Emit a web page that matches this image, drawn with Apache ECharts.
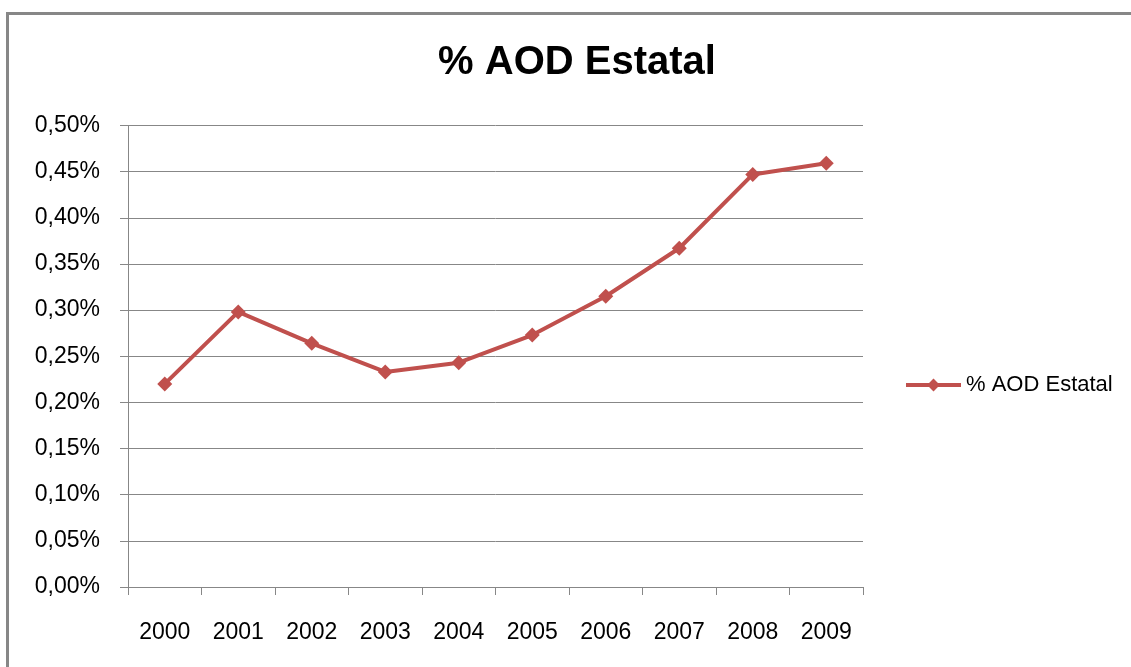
<!DOCTYPE html>
<html>
<head>
<meta charset="utf-8">
<title>% AOD Estatal</title>
<script src="https://cdn.jsdelivr.net/npm/echarts@6/dist/echarts.min.js"></script>
<style>
  html, body { margin: 0; padding: 0; background: #fff; }
  #chart { width: 1131px; height: 667px; }
</style>
</head>
<body>
<div id="chart"></div>
<script>
// datos
var years = ['2000', '2001', '2002', '2003', '2004', '2005', '2006', '2007', '2008', '2009']
var aodEstatal = [0.22, 0.298, 0.264, 0.233, 0.243, 0.273, 0.315, 0.367, 0.447, 0.459]
var seriesName = '% AOD Estatal'

var gray = '#878787'
var font = 'Liberation Sans'

var chart = echarts.init(document.getElementById('chart'))

chart.setOption({
  animation: false,
  backgroundColor: '#fff',
  title: {
    text: seriesName,
    left: 572,
    top: 38,
    textAlign: 'center',
    textStyle: {
      fontFamily: font,
      fontSize: 40,
      fontWeight: 'bold',
      color: '#000'
    }
  },
  graphic: [{
    type: 'rect',
    shape: { x: 7.5, y: 13.5, width: 1140, height: 670 },
    style: { fill: null, stroke: gray, lineWidth: 3 },
    silent: true
  }],
  legend: {
    left: 899,
    top: 369,
    itemWidth: 55,
    itemHeight: 16,
    itemGap: 5,
    lineStyle: { width: 4 },
    textStyle: {
      fontFamily: font,
      fontSize: 22,
      color: '#000'
    },
    data: [seriesName]
  },
  grid: {
    left: 128,
    right: 268,
    top: 125.5,
    bottom: 80
  },
  xAxis: {
    type: 'category',
    data: years,
    boundaryGap: true,
    axisLine: { lineStyle: { color: gray, width: 1 } },
    axisTick: { show: true, interval: 0, length: 8, lineStyle: { color: gray } },
    axisLabel: {
      margin: 34,
      fontFamily: font,
      fontSize: 23,
      color: '#000'
    }
  },
  yAxis: {
    type: 'value',
    min: 0,
    max: 0.5,
    interval: 0.05,
    axisLine: { show: true, lineStyle: { color: gray, width: 1 } },
    axisTick: { show: true, length: 8, lineStyle: { color: gray } },
    splitLine: { lineStyle: { color: gray, width: 1 } },
    axisLabel: {
      margin: 28,
      fontFamily: font,
      fontSize: 23,
      color: '#000',
      formatter: function (v) {
        return v.toFixed(2).replace('.', ',') + '%'
      }
    }
  },
  series: [{
    name: seriesName,
    type: 'line',
    data: aodEstatal,
    symbol: 'diamond',
    symbolSize: 15,
    itemStyle: { color: '#C0504D' },
    lineStyle: { color: '#C0504D', width: 4 }
  }]
})
</script>
</body>
</html>
